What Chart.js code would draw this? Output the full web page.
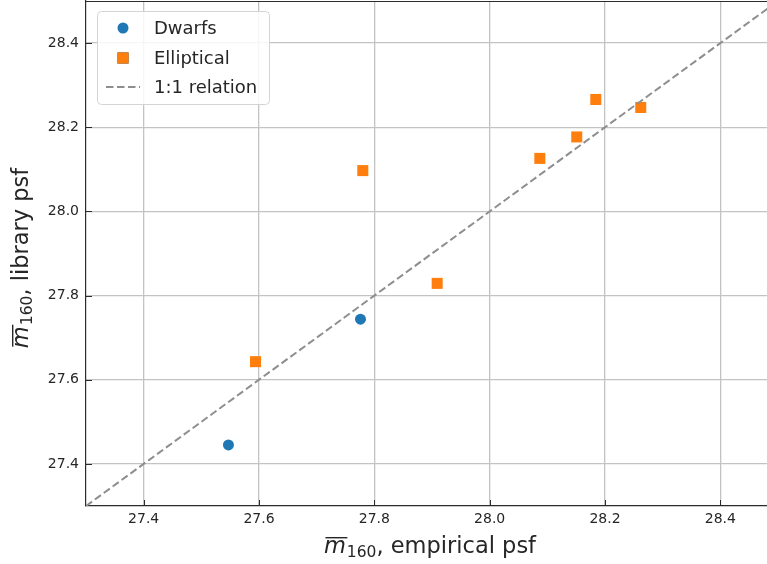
<!DOCTYPE html>
<html lang="en">
<head>
<meta charset="UTF-8">
<title>Library psf vs empirical psf</title>
<script src="https://cdn.jsdelivr.net/npm/chart.js"></script>
<style>
  html, body { margin: 0; padding: 0; background: #fff; overflow: hidden; }
  #wrap { width: 767px; height: 564px; overflow: hidden; }
</style>
</head>
<body>
<div id="wrap"><canvas id="psfChart" width="780" height="564"></canvas></div>
<script>
// mean magnitudes m160: empirical psf (x) against library psf (y)
const dwarfX = [27.547, 27.776];
const dwarfY = [27.445, 27.744];
const ellX = [27.594, 27.780, 27.909, 28.087, 28.151, 28.184, 28.262];
const ellY = [27.643, 28.097, 27.829, 28.126, 28.177, 28.266, 28.247];
// 1:1 reference line end points
const lineX = [27.3, 28.5];
const lineY = [27.3, 28.5];

const xTicks = [27.4, 27.6, 27.8, 28.0, 28.2, 28.4];
const yTicks = [27.4, 27.6, 27.8, 28.0, 28.2, 28.4];
const seriesNames = ['Dwarfs', 'Elliptical', '1:1 relation'];
const xTitleRest = ', empirical psf';
const yTitleRest = ', library psf';

const FONT = '"DejaVu Sans", sans-serif';
const gridColor = '#c3c3c3';
const axisColor = '#2b2b2b';
const textColor = '#262626';

const toPoints = (xs, ys) => xs.map((x, i) => ({ x: x, y: ys[i] }));

// axis label like  m̄_160, ...  (italic m, overline, subscript)
function drawMathLabel(ctx, cx, baseY, rest) {
    const size = 22.5, subSize = 15.5;
    ctx.font = 'italic ' + size + 'px ' + FONT;
    const mW = ctx.measureText('m').width;
    ctx.font = subSize + 'px ' + FONT;
    const subW = ctx.measureText('160').width;
    ctx.font = size + 'px ' + FONT;
    const restW = ctx.measureText(rest).width;
    let x = cx - (mW + subW + 1 + restW) / 2;
    ctx.textAlign = 'left';
    ctx.textBaseline = 'alphabetic';
    ctx.fillStyle = textColor;
    ctx.font = 'italic ' + size + 'px ' + FONT;
    ctx.fillText('m', x, baseY);
    ctx.fillRect(x + 1.5, baseY - 16, mW, 1.4);
    x += mW + 1;
    ctx.font = subSize + 'px ' + FONT;
    ctx.fillText('160', x, baseY + 4);
    x += subW;
    ctx.font = size + 'px ' + FONT;
    ctx.fillText(rest, x, baseY);
}

const decorPlugin = {
    id: 'decor',
    afterDraw(chart) {
        const ctx = chart.ctx;
        const area = chart.chartArea;
        const xs = chart.scales.x, ys = chart.scales.y;
        ctx.save();

        // top spine
        ctx.strokeStyle = axisColor;
        ctx.lineWidth = 1.2;
        ctx.beginPath();
        ctx.moveTo(area.left, area.top + 0.5);
        ctx.lineTo(area.right, area.top + 0.5);
        ctx.stroke();

        // inward tick marks
        ctx.lineWidth = 1;
        ctx.beginPath();
        xs.ticks.forEach(t => {
            const px = Math.round(xs.getPixelForValue(t.value)) + 0.5;
            ctx.moveTo(px, area.bottom);
            ctx.lineTo(px, area.bottom - 6);
        });
        ys.ticks.forEach(t => {
            const py = Math.round(ys.getPixelForValue(t.value)) + 0.5;
            ctx.moveTo(area.left, py);
            ctx.lineTo(area.left + 6, py);
        });
        ctx.stroke();

        // axis titles
        drawMathLabel(ctx, (area.left + area.right) / 2 - 2, 553, xTitleRest);
        ctx.save();
        ctx.translate(28, 258);
        ctx.rotate(-Math.PI / 2);
        drawMathLabel(ctx, 0, 0, yTitleRest);
        ctx.restore();

        // legend box in the upper left corner
        const bx = area.left + 11, by = area.top + 10, bw = 172, bh = 93;
        ctx.beginPath();
        ctx.roundRect(bx + 0.5, by + 0.5, bw, bh, 4);
        ctx.fillStyle = 'rgba(255,255,255,0.85)';
        ctx.fill();
        ctx.strokeStyle = '#d4d4d4';
        ctx.lineWidth = 1;
        ctx.stroke();

        const ds = chart.data.datasets;
        const mx = bx + 26, tx = bx + 57;
        const rows = [by + 17, by + 47, by + 76];
        ctx.font = '18px ' + FONT;
        ctx.textBaseline = 'middle';
        ctx.textAlign = 'left';
        ds.forEach((d, i) => {
            const ry = rows[i];
            if (d.type === 'line') {
                ctx.save();
                ctx.strokeStyle = d.borderColor;
                ctx.lineWidth = d.borderWidth;
                ctx.setLineDash(d.borderDash);
                ctx.beginPath();
                ctx.moveTo(mx - 17, ry);
                ctx.lineTo(mx + 17, ry);
                ctx.stroke();
                ctx.restore();
            } else {
                Chart.helpers.drawPoint(ctx, {
                    pointStyle: d.pointStyle, radius: d.pointRadius, borderWidth: 0, rotation: 0
                }, mx, ry);
                ctx.fillStyle = d.backgroundColor;
                ctx.fill();
            }
            ctx.fillStyle = textColor;
            ctx.fillText(d.label, tx, ry + 1);
        });
        ctx.restore();
    }
};

const tickFont = { family: FONT, size: 14 };

new Chart(document.getElementById('psfChart'), {
    type: 'scatter',
    data: {
        datasets: [{
            label: seriesNames[0],
            data: toPoints(dwarfX, dwarfY),
            pointStyle: 'circle',
            pointRadius: 5.5,
            backgroundColor: '#1f77b4',
            borderWidth: 0
        }, {
            label: seriesNames[1],
            data: toPoints(ellX, ellY),
            pointStyle: 'rect',
            pointRadius: 7.8,
            backgroundColor: '#ff7f0e',
            borderWidth: 0
        }, {
            label: seriesNames[2],
            type: 'line',
            data: toPoints(lineX, lineY),
            borderColor: '#8e8e8e',
            borderWidth: 2,
            borderDash: [7.5, 3.5],
            pointRadius: 0,
            fill: false,
            order: -1
        }]
    },
    options: {
        responsive: false,
        animation: false,
        layout: { autoPadding: false, padding: { top: 1, right: 2, left: 0, bottom: 0 } },
        plugins: { legend: { display: false }, tooltip: { enabled: false } },
        scales: {
            x: {
                type: 'linear',
                min: 27.3,
                max: 28.5,
                afterBuildTicks: s => { s.ticks = xTicks.map(v => ({ value: v })); },
                afterFit: s => {
                    s.height = 58;
                    s.paddingLeft = 0;
                    s.paddingRight = 0;
                },
                grid: { color: gridColor, lineWidth: 1.3, drawTicks: false },
                border: { color: axisColor, width: 1.2 },
                ticks: {
                    padding: 5, color: textColor, font: tickFont,
                    maxRotation: 0, autoSkip: false,
                    callback: v => v.toFixed(1)
                }
            },
            y: {
                type: 'linear',
                min: 27.3,
                max: 28.5,
                afterBuildTicks: s => { s.ticks = yTicks.map(v => ({ value: v })); },
                afterFit: s => {
                    s.width = 86;
                    s.paddingTop = 0;
                    s.paddingBottom = 0;
                },
                grid: { color: gridColor, lineWidth: 1.3, drawTicks: false },
                border: { color: axisColor, width: 1.2 },
                ticks: {
                    padding: 7, color: textColor, font: tickFont,
                    autoSkip: false,
                    callback: v => v.toFixed(1)
                }
            }
        }
    },
    plugins: [decorPlugin]
});
</script>
</body>
</html>
